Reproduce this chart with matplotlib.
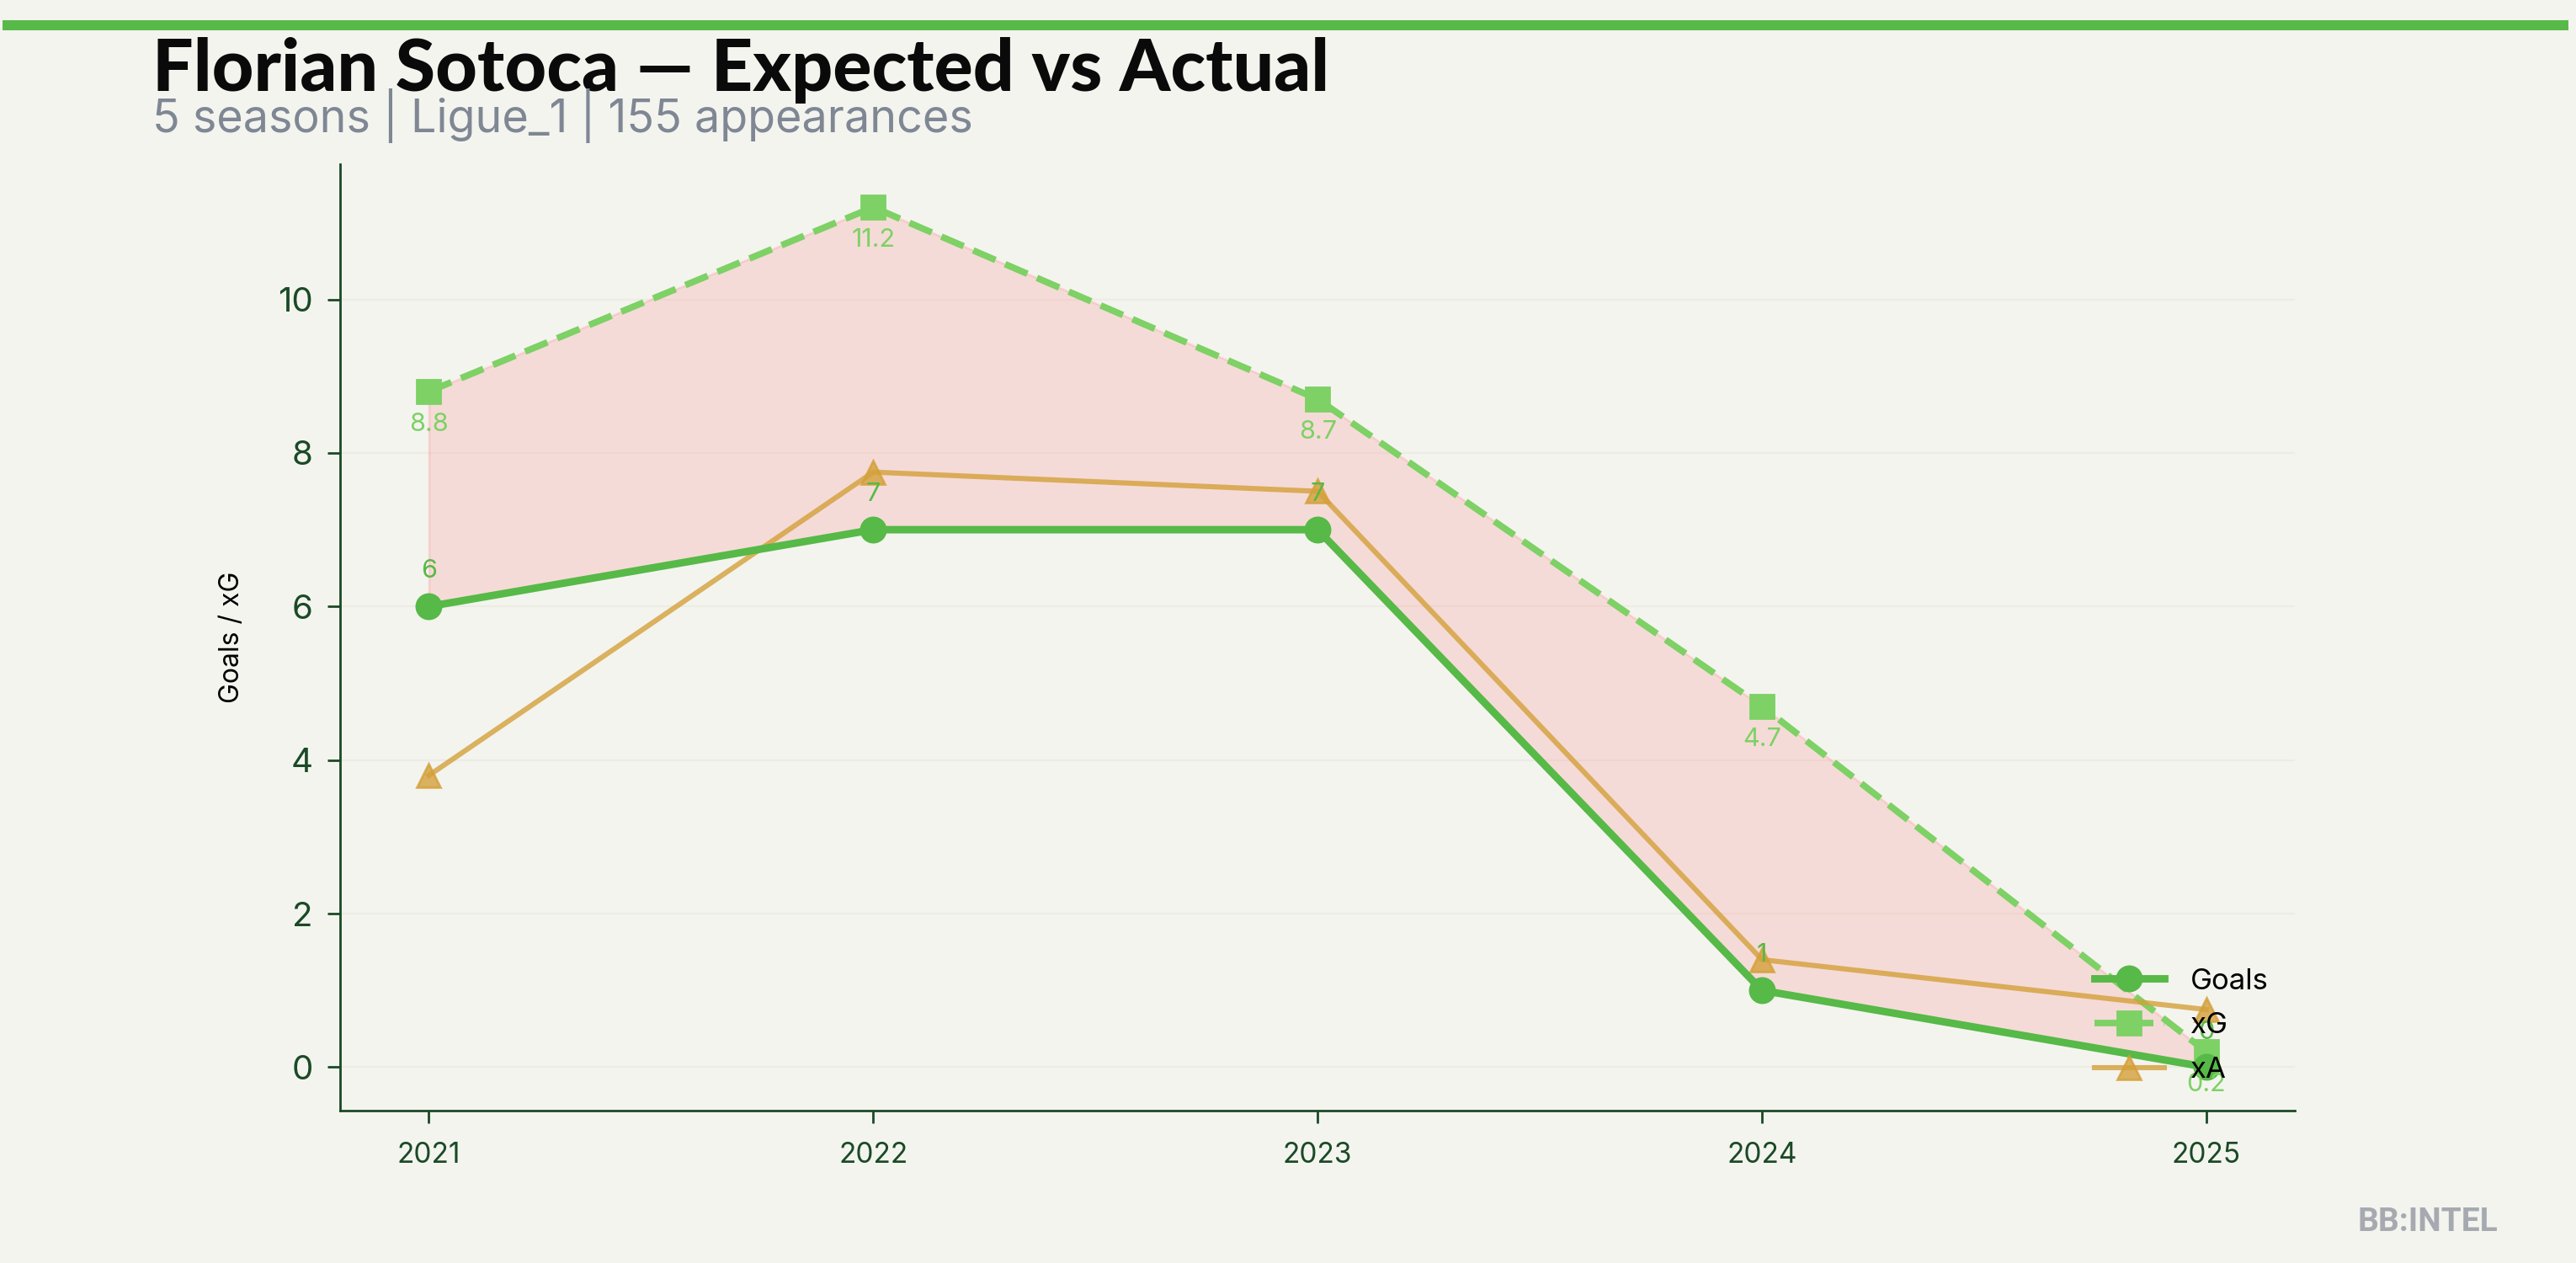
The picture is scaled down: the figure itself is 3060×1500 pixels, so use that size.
import matplotlib
matplotlib.use("Agg")
import matplotlib.pyplot as plt
from matplotlib.lines import Line2D

# data
seasons = [2021, 2022, 2023, 2024, 2025]
goals = [6, 7, 7, 1, 0]
xg = [8.8, 11.2, 8.7, 4.7, 0.2]
xa = [3.8, 7.75, 7.5, 1.4, 0.75]

title = "Florian Sotoca — Expected vs Actual"
subtitle = "5 seasons | Ligue_1 | 155 appearances"

BG = "#f4f4ef"
DARK = "#1a4a26"
C_GOALS = "#57b947"
C_XG = "#7dd165"
C_XA = "#d4a03a"

plt.rcParams['font.family'] = ['Inter', 'DejaVu Sans']

fig = plt.figure(figsize=(15.3, 7.5), dpi=200, facecolor=BG)
ax = fig.add_axes([0.132, 0.121, 0.759, 0.749], facecolor=BG)

# shaded gap between goals and xG
ax.fill_between(seasons, goals, xg, color="#ff6b6b", alpha=0.18, linewidth=1, zorder=1)

ax.plot(seasons, goals, color=C_GOALS, lw=3.2, marker='o', ms=10.5, label="Goals", zorder=4)
ax.plot(seasons, xg, color=C_XG, lw=2.8, ls='--', marker='s', ms=10, label="xG", zorder=3)
ax.plot(seasons, xa, color=C_XA, lw=2.2, marker='^', ms=10, alpha=0.8, label="xA", zorder=3)

# value labels
for s, g in zip(seasons, goals):
    ax.annotate(f"{g}", (s, g), xytext=(0, 10), textcoords="offset points",
                ha='center', va='bottom', fontsize=11, color=C_GOALS, zorder=5)
for s, v in zip(seasons, xg):
    ax.annotate(f"{v}", (s, v), xytext=(0, -9), textcoords="offset points",
                ha='center', va='top', fontsize=11, color=C_XG, zorder=5)

ax.set_xticks(seasons)
ax.set_xticklabels([str(s) for s in seasons])
ax.set_ylabel("Goals / xG", fontsize=11.5, color="black", labelpad=14)

for side in ['top', 'right']:
    ax.spines[side].set_visible(False)
for side in ['left', 'bottom']:
    ax.spines[side].set_color(DARK)
    ax.spines[side].set_linewidth(1.0)
ax.tick_params(axis='both', colors=DARK, length=5.5, width=1.0)
ax.tick_params(axis='x', labelsize=12, pad=8)
ax.tick_params(axis='y', labelsize=14.5, pad=6)
ax.grid(axis='y', color="#ecece5", lw=0.8)
ax.set_axisbelow(True)

ax.legend(loc='lower right', bbox_to_anchor=(1.0, 0.0), frameon=False,
          fontsize=12.5, handlelength=2.4, labelspacing=0.6, handletextpad=0.9)

# header
fig.add_artist(Line2D([0.003, 0.995], [0.98, 0.98], color="#57b947", lw=4.3,
                      transform=fig.transFigure))
fig.text(0.059, 0.928, title, fontsize=31, fontweight='black', family=['Lato', 'DejaVu Sans'],
         color="#0a0a0a", ha='left', va='baseline')
fig.text(0.059, 0.895, subtitle, fontsize=19.4, color="#7f8794", ha='left', va='baseline')
fig.text(0.9696, 0.025, "BB:INTEL", fontsize=14, fontweight='bold', color="#a6aab0",
         family=['Roboto', 'DejaVu Sans'], ha='right', va='baseline')

fig.savefig("out.png", dpi=200, facecolor=BG)
